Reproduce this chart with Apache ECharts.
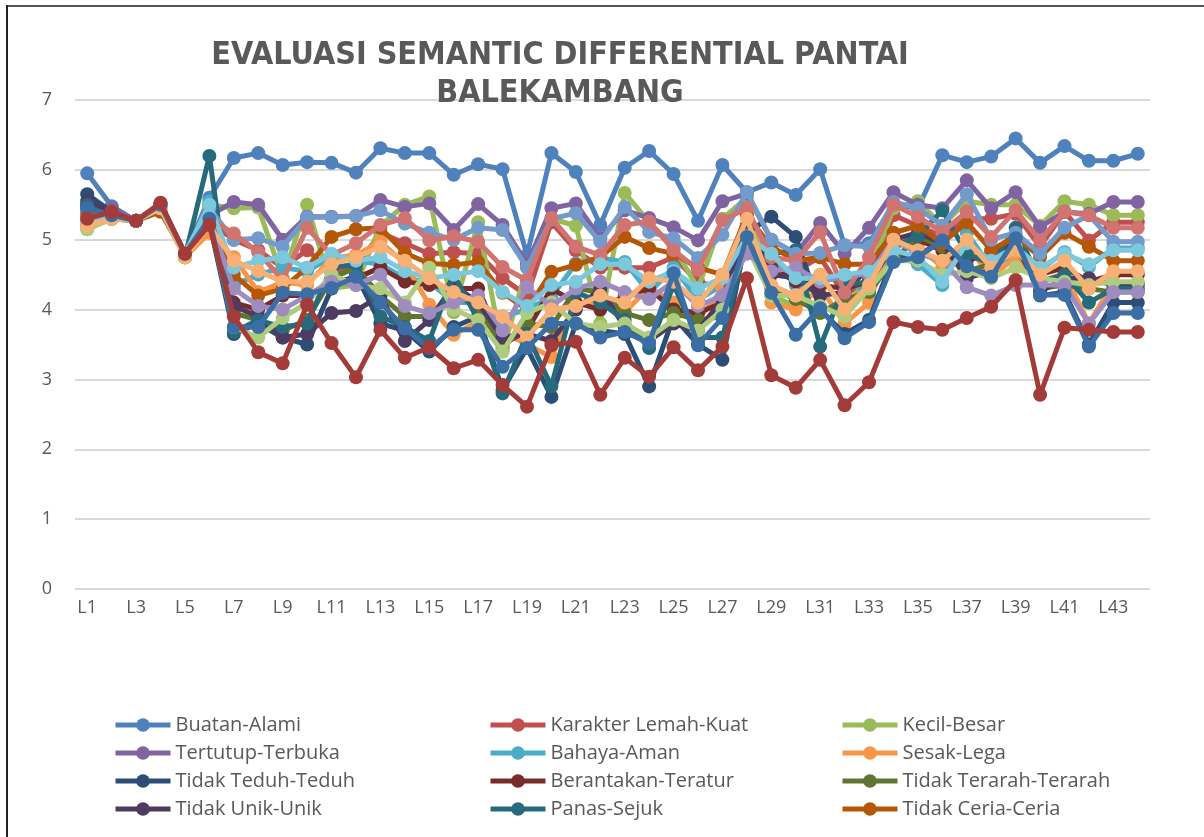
<!DOCTYPE html>
<html>
<head>
<meta charset="utf-8">
<script src="https://cdn.jsdelivr.net/npm/echarts@6/dist/echarts.min.js"></script>
<style>
html,body{margin:0;padding:0;background:#fff;}
#wrap{position:relative;width:1204px;height:837px;overflow:hidden;}
#chart{position:absolute;left:0;top:0;width:1204px;height:837px;}
#topline{position:absolute;left:6px;top:5px;width:1198px;height:2px;background:#555;}
#leftline{position:absolute;left:6px;top:5px;width:2px;height:832px;background:#222;}
</style>
</head>
<body>
<div id="wrap"><div id="chart"></div><div id="topline"></div><div id="leftline"></div></div>
<script>
const categories = Array.from({length: 44}, (_, i) => 'L' + (i + 1));
const yTicks = [0, 1, 2, 3, 4, 5, 6, 7];
const titleText = 'EVALUASI SEMANTIC DIFFERENTIAL PANTAI\nBALEKAMBANG';

const buatanAlami = [5.95,5.48,5.27,5.5,4.78,5.6,6.17,6.24,6.07,6.11,6.1,5.96,6.31,6.24,6.24,5.93,6.08,6.01,4.78,6.24,5.97,5.21,6.03,6.27,5.94,5.27,6.07,5.68,5.82,5.64,6.01,4.92,4.95,5.5,5.45,6.21,6.11,6.19,6.45,6.1,6.34,6.13,6.13,6.23];
const karakterLemahKuat = [5.25,5.35,5.27,5.5,4.8,5.25,5.0,4.85,4.6,4.85,4.55,4.6,5.1,4.95,4.8,4.82,4.8,4.45,4.2,5.25,4.85,4.6,4.6,4.6,4.75,4.4,4.3,5.4,4.6,4.55,4.75,4.2,4.45,5.35,5.2,5.05,5.3,5.3,5.37,4.9,5.4,4.99,5.25,5.25];
const kecilBesar = [5.15,5.3,5.27,5.45,4.75,5.5,5.45,5.46,4.45,5.5,4.3,4.35,5.2,5.5,5.62,3.96,5.25,3.4,4.6,5.3,5.2,3.8,5.67,5.25,4.9,4.3,5.3,5.6,4.2,4.05,4.5,4.0,4.5,5.45,5.55,5.2,5.55,5.5,5.5,5.2,5.55,5.5,5.35,5.35];
const tertutupTerbuka = [5.4,5.45,5.27,5.5,4.8,5.35,5.54,5.5,5.0,5.33,5.33,5.34,5.57,5.47,5.52,5.14,5.51,5.21,4.65,5.45,5.52,5.02,5.42,5.31,5.18,4.99,5.55,5.66,5.0,4.8,5.24,4.8,5.17,5.68,5.5,5.45,5.85,5.45,5.68,5.18,5.4,5.37,5.54,5.54];
const bahayaAman = [5.2,5.35,5.27,5.5,4.77,5.55,4.35,4.5,4.6,4.55,4.75,4.7,4.65,4.45,4.39,4.11,4.09,3.9,4.0,4.18,4.66,4.74,4.68,4.24,4.6,4.14,4.35,4.9,4.75,4.35,4.4,4.47,4.2,4.8,4.65,4.35,5.1,4.6,4.8,4.57,4.82,4.61,4.88,4.88];
const sesakLega = [5.2,5.3,5.27,5.45,4.75,5.1,4.75,4.25,4.39,4.35,4.74,4.78,4.97,4.66,4.07,3.64,3.83,3.68,3.5,3.32,4.09,4.07,3.96,4.32,4.1,3.85,4.3,5.4,4.1,4.0,4.32,3.8,4.1,5.07,4.9,4.61,4.92,4.47,4.75,4.4,4.52,3.8,4.38,4.38];
const tidakTeduhTeduh = [5.65,5.4,5.27,5.5,4.8,5.25,3.65,3.8,3.6,3.5,4.3,4.5,3.8,3.7,3.4,3.75,3.9,2.85,3.45,2.75,3.8,3.7,3.65,2.9,3.9,3.5,3.28,5.1,5.33,5.04,4.0,3.65,3.85,4.75,4.8,4.95,4.6,4.5,5.0,4.2,4.25,3.5,4.1,4.1];
const berantakanTeratur = [5.5,5.4,5.27,5.5,4.8,5.3,4.1,4.0,4.2,4.2,4.4,4.45,4.6,4.4,4.35,4.3,4.3,3.5,3.7,4.3,4.1,4.0,4.2,4.3,4.0,3.95,4.1,5.15,4.6,4.4,4.35,4.3,4.4,4.9,5.0,4.85,4.7,4.8,4.95,4.5,4.6,4.4,4.5,4.5];
const tidakTerarahTerarah = [5.45,5.35,5.27,5.5,4.8,5.5,3.95,3.85,3.7,3.85,4.45,4.6,4.2,3.9,3.9,4.2,4.05,3.45,3.8,3.75,4.3,4.25,3.95,3.85,3.95,3.85,3.9,5.05,4.3,4.15,3.95,4.15,4.25,4.7,5.05,4.9,4.55,4.65,4.9,4.3,4.35,4.3,4.25,4.25];
const tidakUnikUnik = [5.55,5.4,5.27,5.5,4.8,5.35,4.05,3.9,3.6,3.65,3.95,3.98,4.2,3.55,3.85,4.35,4.1,3.6,3.65,3.55,4.0,4.3,3.75,3.55,3.8,3.7,4.15,5.2,4.5,4.45,4.2,4.25,4.6,5.0,5.1,4.95,4.45,4.55,4.95,4.25,4.45,4.45,4.35,4.35];
const panasSejuk = [5.5,5.3,5.27,5.5,4.75,6.2,3.68,3.85,3.75,3.8,4.6,4.65,3.9,3.75,3.55,4.5,3.85,2.8,3.65,2.9,4.25,4.1,3.85,3.45,4.35,3.6,3.6,5.0,4.8,4.85,3.47,4.35,4.4,4.9,5.05,5.42,4.8,4.65,5.17,4.4,4.5,4.1,4.3,4.3];
const tidakCeriaCeria = [5.35,5.35,5.27,5.4,4.78,5.2,4.5,4.2,4.3,4.6,5.04,5.15,5.17,4.81,4.66,4.64,4.68,4.24,4.0,4.54,4.64,4.75,5.04,4.88,4.8,4.6,4.5,5.35,4.9,4.7,4.75,4.65,4.65,5.1,5.2,4.95,5.25,4.85,5.05,4.75,5.1,4.9,4.7,4.7];
const seri13 = [5.3,5.4,5.27,5.5,4.8,5.45,5.0,5.02,4.9,5.32,5.32,5.34,5.42,5.23,5.1,5.0,5.17,5.14,4.6,5.3,5.38,4.97,5.47,5.11,5.02,4.74,5.07,5.68,5.0,4.8,4.81,4.92,4.9,5.54,5.45,5.2,5.65,5.0,5.1,4.8,5.17,5.35,4.97,4.97];
const seri14 = [5.3,5.4,5.27,5.5,4.8,5.3,5.09,4.82,4.42,5.17,4.78,4.95,5.21,5.31,4.99,5.05,4.97,4.61,4.42,5.31,4.9,4.78,5.21,5.26,4.85,4.57,5.28,5.45,4.75,4.7,5.11,4.24,4.75,5.5,5.33,5.11,5.4,5.04,5.42,4.99,5.4,5.35,5.17,5.17];
const seri15 = [5.15,5.3,5.27,5.45,4.75,5.3,3.75,3.6,3.88,4.1,4.5,4.35,4.3,4.1,4.6,4.0,3.85,3.4,3.95,4.1,3.8,3.75,3.8,3.6,3.85,3.7,4.0,4.9,4.2,4.2,4.05,3.9,4.3,4.7,4.7,4.5,4.55,4.45,4.6,4.45,4.4,4.35,4.4,4.4];
const seri16 = [5.3,5.35,5.27,5.45,4.8,5.3,4.3,4.05,4.0,4.2,4.4,4.35,4.5,4.05,3.95,4.1,4.2,3.7,4.32,4.05,4.3,4.4,4.25,4.15,4.4,4.05,4.2,4.8,4.55,4.6,4.4,4.5,4.5,5.0,4.8,4.7,4.32,4.2,4.35,4.35,4.35,3.8,4.25,4.25];
const seri17 = [5.25,5.35,5.27,5.5,4.8,5.5,4.6,4.7,4.75,4.6,4.8,4.7,4.75,4.55,4.45,4.5,4.55,4.25,4.05,4.35,4.4,4.65,4.65,4.4,4.55,4.3,4.45,5.05,4.8,4.45,4.45,4.5,4.55,4.85,4.75,4.4,4.95,4.7,4.9,4.6,4.8,4.65,4.85,4.85];
const seri18 = [5.2,5.3,5.27,5.45,4.75,5.2,4.7,4.55,4.4,4.4,4.65,4.75,4.9,4.7,4.45,4.25,4.1,3.9,3.6,4.0,4.05,4.2,4.1,4.45,4.4,4.1,4.5,5.3,4.35,4.2,4.5,4.0,4.35,5.0,4.85,4.7,5.0,4.6,4.85,4.5,4.7,4.3,4.55,4.55];
const seri19 = [5.45,5.35,5.27,5.5,4.8,5.3,3.75,3.75,4.24,4.22,4.31,4.47,4.1,3.73,3.45,3.71,3.71,3.18,3.45,3.8,3.8,3.6,3.68,3.52,4.52,3.49,3.88,5.04,4.24,3.64,4.02,3.59,3.82,4.68,4.75,4.99,4.62,4.47,5.02,4.21,4.21,3.47,3.95,3.95];
const seri20 = [5.3,5.4,5.27,5.53,4.8,5.21,3.9,3.39,3.23,4.07,3.52,3.03,3.71,3.31,3.46,3.16,3.28,2.92,2.61,3.49,3.54,2.78,3.31,3.04,3.46,3.13,3.47,4.45,3.06,2.88,3.28,2.63,2.96,3.82,3.75,3.71,3.88,4.04,4.42,2.78,3.74,3.71,3.68,3.68];

const seriesNames = ['Buatan-Alami','Karakter Lemah-Kuat','Kecil-Besar','Tertutup-Terbuka','Bahaya-Aman','Sesak-Lega','Tidak Teduh-Teduh','Berantakan-Teratur','Tidak Terarah-Terarah','Tidak Unik-Unik','Panas-Sejuk','Tidak Ceria-Ceria','Seri 13','Seri 14','Seri 15','Seri 16','Seri 17','Seri 18','Seri 19','Seri 20'];
const seriesValues = [buatanAlami,karakterLemahKuat,kecilBesar,tertutupTerbuka,bahayaAman,sesakLega,tidakTeduhTeduh,berantakanTeratur,tidakTerarahTerarah,tidakUnikUnik,panasSejuk,tidakCeriaCeria,seri13,seri14,seri15,seri16,seri17,seri18,seri19,seri20];
const seriesColors = ['#4F81BD','#C0504D','#9BBB59','#8064A2','#4BACC6','#F79646','#2C4D75','#772C2A','#5F7530','#4D3B62','#276A7C','#B65708','#729ACA','#D07371','#AFCB7E','#9F8CBF','#7CC8DC','#F9B074','#3B6EA5','#A33B38'];

const legendCols = [
  ['Buatan-Alami','Tertutup-Terbuka','Tidak Teduh-Teduh','Tidak Unik-Unik'],
  ['Karakter Lemah-Kuat','Bahaya-Aman','Berantakan-Teratur','Panas-Sejuk'],
  ['Kecil-Besar','Sesak-Lega','Tidak Terarah-Terarah','Tidak Ceria-Ceria']
];
const legendLeft = [113, 488, 840];

const textColor = '#595959';
const chart = echarts.init(document.getElementById('chart'), null, {renderer: 'canvas'});

const option = {
  animation: false,
  color: seriesColors,
  title: {
    text: titleText,
    left: 555,
    top: 32,
    textAlign: 'center',
    textStyle: {
      fontFamily: "'DejaVu Sans Condensed', sans-serif",
      fontWeight: 'bold',
      fontSize: 32,
      lineHeight: 38,
      color: textColor
    }
  },
  legend: legendCols.map((col, i) => ({
    type: 'plain',
    data: col,
    orient: 'vertical',
    left: legendLeft[i],
    top: 715,
    width: 340,
    height: 130,
    padding: 0,
    itemWidth: 55,
    itemHeight: 17,
    itemGap: 8,
    selectedMode: false,
    lineStyle: {width: 5},
    textStyle: {fontFamily: "'Open Sans', sans-serif", fontSize: 20, lineHeight: 20, color: textColor}
  })),
  grid: {left: 75, right: 54, top: 100, bottom: 248, containLabel: false},
  xAxis: {
    type: 'category',
    data: categories,
    boundaryGap: true,
    axisLine: {show: false},
    axisTick: {show: false},
    axisLabel: {interval: 1, fontFamily: "'Open Sans', sans-serif", fontSize: 18, color: textColor, margin: 10}
  },
  yAxis: {
    type: 'value',
    min: yTicks[0],
    max: yTicks[yTicks.length - 1],
    interval: 1,
    axisLine: {show: false},
    axisTick: {show: false},
    axisLabel: {fontFamily: "'Open Sans', sans-serif", fontSize: 18, color: textColor, margin: 23},
    splitLine: {lineStyle: {color: '#D9D9D9', width: 2}}
  },
  series: seriesNames.map((name, i) => ({
    name: name,
    type: 'line',
    data: seriesValues[i],
    symbol: 'circle',
    symbolSize: 14,
    lineStyle: {width: 5, color: seriesColors[i]},
    itemStyle: {color: seriesColors[i]},
    z: 2 + i
  }))
};
chart.setOption(option);
</script>
</body>
</html>
